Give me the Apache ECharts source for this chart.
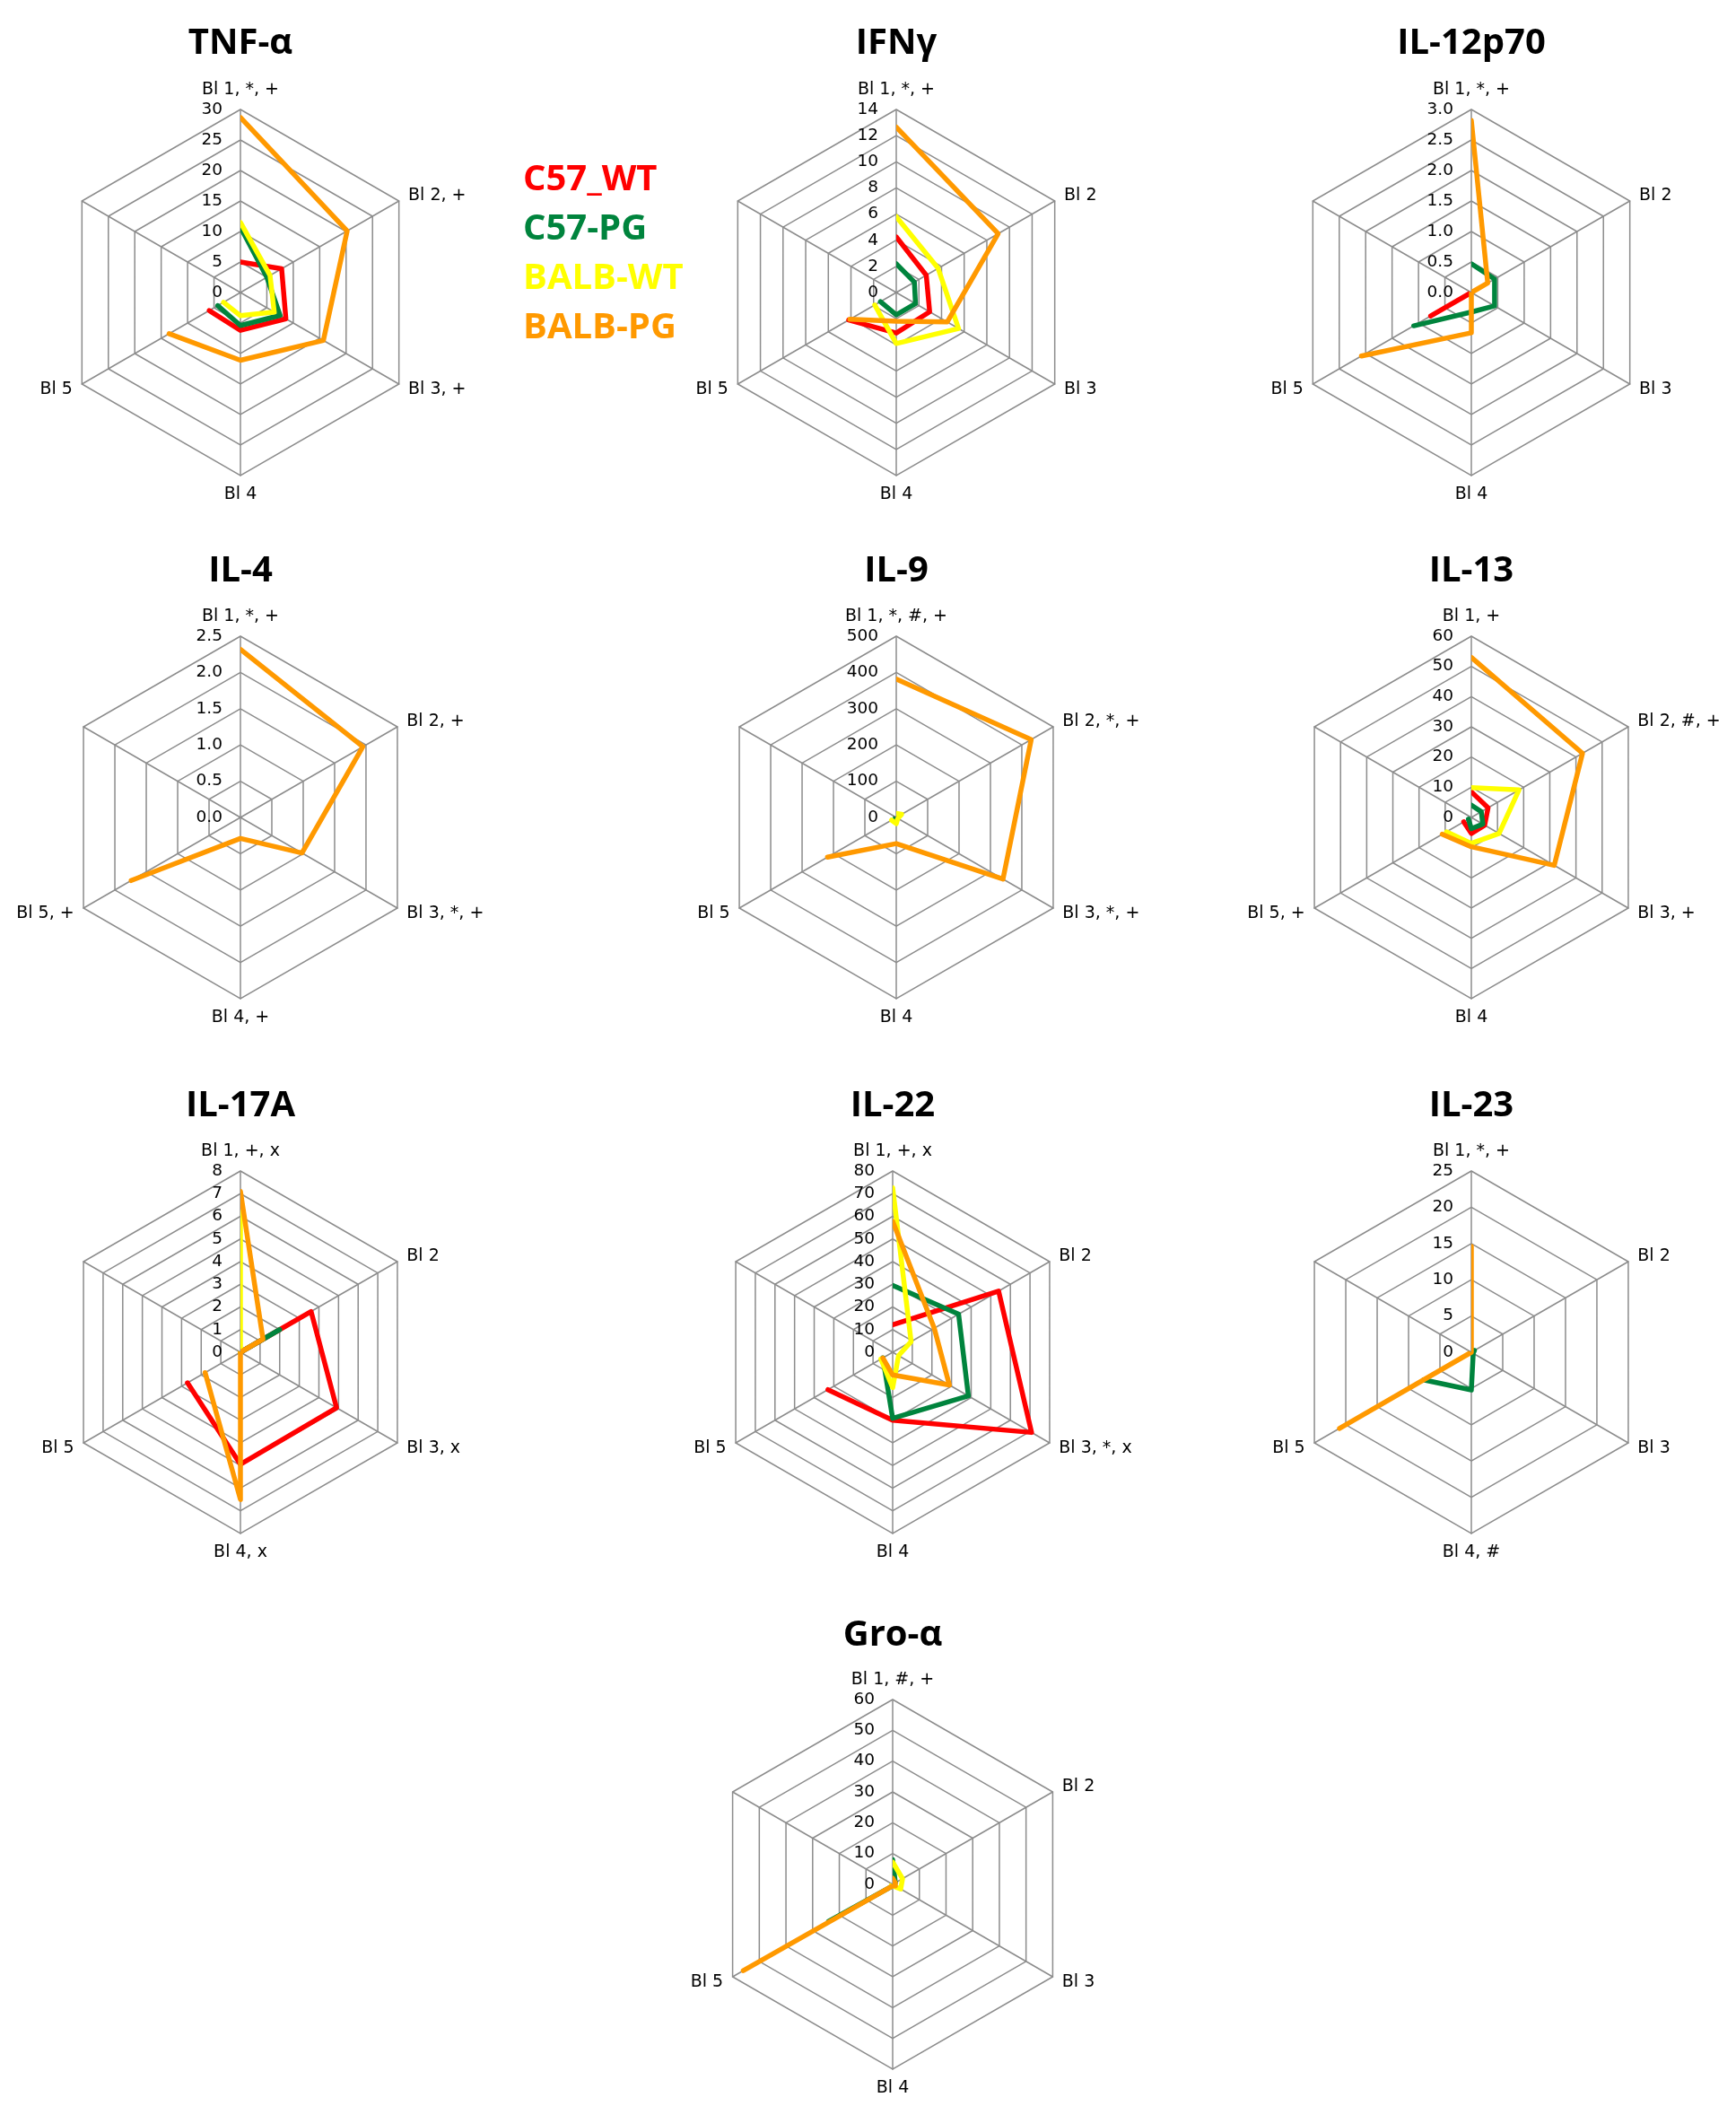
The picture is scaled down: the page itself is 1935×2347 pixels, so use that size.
<!DOCTYPE html>
<html><head><meta charset="utf-8">
<script src="https://cdn.jsdelivr.net/npm/echarts@6/dist/echarts.min.js"></script>
<style>
html,body{margin:0;padding:0;background:#fff;}
body{width:1935px;height:2347px;overflow:hidden;position:relative;}
.c{position:absolute;}
</style></head><body>
<script>
// ---------- data ----------
const categories = ['Bl 1', 'Bl 2', 'Bl 3', 'Bl 4', 'Bl 5', ''];
const seriesNames = ['C57_WT', 'C57-PG', 'BALB-WT', 'BALB-PG'];
const seriesColors = ['#FF0000', '#00843D', '#FFFF00', '#FF9900'];

const TNF_LABELS = ['Bl 1, *, +', 'Bl 2, +', 'Bl 3, +', 'Bl 4', 'Bl 5'];
const TNF_TICKS = [0, 5, 10, 15, 20, 25, 30];
const TNF_C57_WT = [5.0, 7.8, 8.6, 6.2, 5.9];
const TNF_C57_PG = [10.7, 5.0, 7.5, 5.4, 4.3];
const TNF_BALB_WT = [11.5, 5.6, 6.4, 3.8, 3.2];
const TNF_BALB_PG = [28.7, 20.2, 15.7, 11.1, 13.5];

const IFN_LABELS = ['Bl 1, *, +', 'Bl 2', 'Bl 3', 'Bl 4', 'Bl 5'];
const IFN_TICKS = [0, 2, 4, 6, 8, 10, 12, 14];
const IFN_C57_WT = [4.25, 2.65, 2.95, 3.1, 4.2];
const IFN_C57_PG = [2.2, 1.6, 1.7, 1.7, 1.4];
const IFN_BALB_WT = [5.8, 3.7, 5.5, 3.9, 1.9];
const IFN_BALB_PG = [12.65, 9.0, 4.5, 2.2, 4.1];

const IL12_LABELS = ['Bl 1, *, +', 'Bl 2', 'Bl 3', 'Bl 4', 'Bl 5'];
const IL12_TICKS = [0.0, 0.5, 1.0, 1.5, 2.0, 2.5, 3.0];
const IL12_C57_WT = [0, 0, 0, 0, 0.77];
const IL12_C57_PG = [0.47, 0.44, 0.44, 0.32, 1.09];
const IL12_BALB_WT = [0, 0, 0, 0, 0];
const IL12_BALB_PG = [2.82, 0.31, 0, 0.66, 2.08];

const IL4_LABELS = ['Bl 1, *, +', 'Bl 2, +', 'Bl 3, *, +', 'Bl 4, +', 'Bl 5, +'];
const IL4_TICKS = [0.0, 0.5, 1.0, 1.5, 2.0, 2.5];
const IL4_C57_WT = [0, 0, 0, 0, 0];
const IL4_C57_PG = [0, 0, 0, 0, 0];
const IL4_BALB_WT = [0, 0, 0, 0, 0];
const IL4_BALB_PG = [2.32, 1.95, 0.98, 0.29, 1.74];

const IL9_LABELS = ['Bl 1, *, #, +', 'Bl 2, *, +', 'Bl 3, *, +', 'Bl 4', 'Bl 5'];
const IL9_TICKS = [0, 100, 200, 300, 400, 500];
const IL9_C57_WT = [2, 2, 2, 2, 2];
const IL9_C57_PG = [4, 3, 2, 2, 3];
const IL9_BALB_WT = [11, 17, 5, 17, 15];
const IL9_BALB_PG = [382, 430, 340, 72, 219];

const IL13_LABELS = ['Bl 1, +', 'Bl 2, #, +', 'Bl 3, +', 'Bl 4', 'Bl 5, +'];
const IL13_TICKS = [0, 10, 20, 30, 40, 50, 60];
const IL13_C57_WT = [8.5, 6.4, 5.1, 5.3, 2.9];
const IL13_C57_PG = [4.1, 3.8, 4.4, 3.7, 1.1];
const IL13_BALB_WT = [9.9, 18.2, 10.6, 8.6, 9.5];
const IL13_BALB_PG = [53.0, 42.5, 31.7, 9.7, 11.1];

const IL17_LABELS = ['Bl 1, +, x', 'Bl 2', 'Bl 3, x', 'Bl 4, x', 'Bl 5'];
const IL17_TICKS = [0, 1, 2, 3, 4, 5, 6, 7, 8];
const IL17_C57_WT = [0, 3.6, 4.9, 4.95, 2.7];
const IL17_C57_PG = [0, 2.0, 0, 0, 0];
const IL17_BALB_WT = [6.2, 0, 0, 0, 0];
const IL17_BALB_PG = [7.1, 1.15, 0, 6.5, 1.8];

const IL22_LABELS = ['Bl 1, +, x', 'Bl 2', 'Bl 3, *, x', 'Bl 4', 'Bl 5'];
const IL22_TICKS = [0, 10, 20, 30, 40, 50, 60, 70, 80];
const IL22_C57_WT = [12.1, 54, 70.8, 30, 33];
const IL22_C57_PG = [29.5, 33.6, 38.6, 29.2, 5];
const IL22_BALB_WT = [72.6, 9.4, 3, 15.6, 6];
const IL22_BALB_PG = [57.8, 21.2, 28.9, 10, 5];

const IL23_LABELS = ['Bl 1, *, +', 'Bl 2', 'Bl 3', 'Bl 4, #', 'Bl 5'];
const IL23_TICKS = [0, 5, 10, 15, 20, 25];
const IL23_C57_WT = [0, 0, 0, 0, 0];
const IL23_C57_PG = [0.3, 0.5, 0.3, 5.2, 7.6];
const IL23_BALB_WT = [0, 0, 0, 0, 0];
const IL23_BALB_PG = [14.6, 0, 0, 0, 21.0];

const GRO_LABELS = ['Bl 1, #, +', 'Bl 2', 'Bl 3', 'Bl 4', 'Bl 5'];
const GRO_TICKS = [0, 10, 20, 30, 40, 50, 60];
const GRO_C57_WT = [0, 0, 0, 0, 0];
const GRO_C57_PG = [8, 1, 0.5, 0, 24];
const GRO_BALB_WT = [7.2, 3.7, 3, 0.5, 0.5];
const GRO_BALB_PG = [2, 1, 1, 0.5, 56];

// ---------- layout (page pixels) ----------
const charts = [
  {title: 'TNF-α',    labels: TNF_LABELS,  ticks: TNF_TICKS,  dec: 0, data: [TNF_C57_WT, TNF_C57_PG, TNF_BALB_WT, TNF_BALB_PG],     cx: 268,  cy: 326,  r: 204, ty: 49},
  {title: 'IFNγ',     labels: IFN_LABELS,  ticks: IFN_TICKS,  dec: 0, data: [IFN_C57_WT, IFN_C57_PG, IFN_BALB_WT, IFN_BALB_PG],     cx: 999,  cy: 326,  r: 204, ty: 49},
  {title: 'IL-12p70', labels: IL12_LABELS, ticks: IL12_TICKS, dec: 1, data: [IL12_C57_WT, IL12_C57_PG, IL12_BALB_WT, IL12_BALB_PG], cx: 1640, cy: 326,  r: 204, ty: 49},
  {title: 'IL-4',     labels: IL4_LABELS,  ticks: IL4_TICKS,  dec: 1, data: [IL4_C57_WT, IL4_C57_PG, IL4_BALB_WT, IL4_BALB_PG],     cx: 268,  cy: 911,  r: 202, ty: 637},
  {title: 'IL-9',     labels: IL9_LABELS,  ticks: IL9_TICKS,  dec: 0, data: [IL9_C57_WT, IL9_C57_PG, IL9_BALB_WT, IL9_BALB_PG],     cx: 999,  cy: 911,  r: 202, ty: 637},
  {title: 'IL-13',    labels: IL13_LABELS, ticks: IL13_TICKS, dec: 0, data: [IL13_C57_WT, IL13_C57_PG, IL13_BALB_WT, IL13_BALB_PG], cx: 1640, cy: 911,  r: 202, ty: 637},
  {title: 'IL-17A',   labels: IL17_LABELS, ticks: IL17_TICKS, dec: 0, data: [IL17_C57_WT, IL17_C57_PG, IL17_BALB_WT, IL17_BALB_PG], cx: 268,  cy: 1507, r: 202, ty: 1233},
  {title: 'IL-22',    labels: IL22_LABELS, ticks: IL22_TICKS, dec: 0, data: [IL22_C57_WT, IL22_C57_PG, IL22_BALB_WT, IL22_BALB_PG], cx: 995,  cy: 1507, r: 202, ty: 1233},
  {title: 'IL-23',    labels: IL23_LABELS, ticks: IL23_TICKS, dec: 0, data: [IL23_C57_WT, IL23_C57_PG, IL23_BALB_WT, IL23_BALB_PG], cx: 1640, cy: 1507, r: 202, ty: 1233},
  {title: 'Gro-α',    labels: GRO_LABELS,  ticks: GRO_TICKS,  dec: 0, data: [GRO_C57_WT, GRO_C57_PG, GRO_BALB_WT, GRO_BALB_PG],     cx: 995,  cy: 2100, r: 206, ty: 1823}
];

const GRID = '#8c8c8c';
const TITLE_FONT = '"Open Sans", "DejaVu Sans", sans-serif';
const LABEL_FONT = '"DejaVu Sans", "Open Sans", sans-serif';
const W = 580, H = 620;

charts.forEach(function (cfg) {
  const top = cfg.cy - H / 2;
  const div = document.createElement('div');
  div.className = 'c';
  div.style.left = (cfg.cx - W / 2) + 'px';
  div.style.top = top + 'px';
  div.style.width = W + 'px';
  div.style.height = H + 'px';
  document.body.appendChild(div);

  const tMin = cfg.ticks[0], tMax = cfg.ticks[cfg.ticks.length - 1];
  const names = cfg.labels.concat(['']);
  const order = [0, 5, 4, 3, 2, 1]; // radar indicators run counter-clockwise
  const indicator = order.map(function (k, i) {
    const o = {name: names[k], min: tMin, max: tMax};
    if (i === 0) o.axisLabel = {show: true};
    return o;
  });
  const lc = [W / 2, H / 2];
  const chart = echarts.init(div, null, {renderer: 'canvas'});
  chart.setOption({
    animation: false,
    title: {
      text: cfg.title, left: 'center', top: cfg.ty - top - 20, padding: 0,
      textStyle: {fontSize: 40, fontWeight: 'bold', fontFamily: TITLE_FONT, color: '#000'}
    },
    radar: {
      center: lc, radius: cfg.r, startAngle: 90, shape: 'polygon',
      splitNumber: cfg.ticks.length - 1,
      indicator: indicator,
      nameGap: 12,
      axisName: {color: '#000', fontSize: 19, fontFamily: LABEL_FONT},
      splitLine: {lineStyle: {color: GRID, width: 1.5}},
      splitArea: {show: false},
      axisLine: {lineStyle: {color: GRID, width: 1.5}},
      axisTick: {show: false},
      axisLabel: {
        show: false, margin: 20, color: '#000', fontSize: 18.5, fontFamily: LABEL_FONT,
        formatter: function (v) { return Number(v).toFixed(cfg.dec); }
      }
    },
    polar: {center: lc, radius: cfg.r},
    angleAxis: {
      type: 'category', data: categories, boundaryGap: false, startAngle: 90, clockwise: true,
      axisLine: {show: false}, axisTick: {show: false}, axisLabel: {show: false}, splitLine: {show: false}
    },
    radiusAxis: {
      type: 'value', min: tMin, max: tMax,
      axisLine: {show: false}, axisTick: {show: false}, axisLabel: {show: false}, splitLine: {show: false}
    },
    series: seriesNames.map(function (n, i) {
      return {
        type: 'line', name: n, coordinateSystem: 'polar', data: cfg.data[i],
        symbol: 'none', z: 3 + i,
        lineStyle: {color: seriesColors[i], width: 5.5, cap: 'round', join: 'round'},
        itemStyle: {color: seriesColors[i]}
      };
    })
  });
});

// ---------- legend (coloured series names) ----------
const lg = document.createElement('div');
lg.className = 'c';
lg.style.left = '560px'; lg.style.top = '150px';
lg.style.width = '280px'; lg.style.height = '270px';
document.body.appendChild(lg);
const legendChart = echarts.init(lg);
const legendY = [53, 108, 163, 218];
legendChart.setOption({
  animation: false,
  graphic: seriesNames.map(function (n, i) {
    return {
      type: 'text', left: 23, top: legendY[i] - 22,
      style: {text: n, fill: seriesColors[i], font: 'bold 40px ' + TITLE_FONT}
    };
  })
});
</script>
</body></html>
